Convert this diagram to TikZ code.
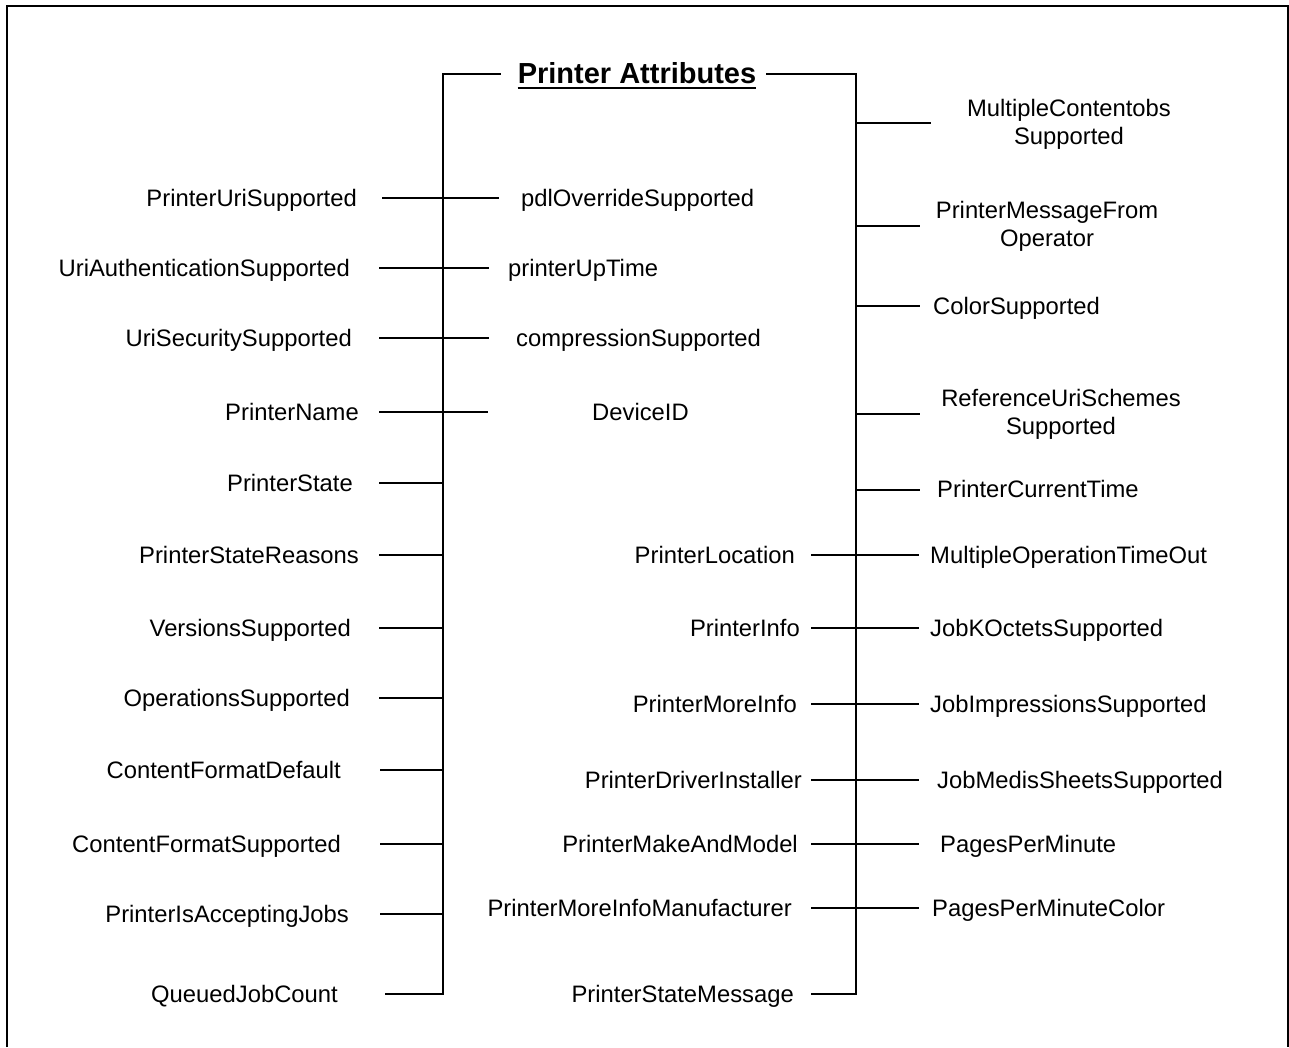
\documentclass[tikz,border=0pt]{standalone}
\usepackage{fontspec}
\setmainfont{Liberation Sans}
\begin{document}
\begin{tikzpicture}[x=1pt,y=-1pt,
  wire/.style={line width=2pt, line cap=rect},
  lbl/.style={inner sep=0pt, text height=17pt, text depth=0pt, font=\fontsize{23.8}{28}\selectfont},
  lbltwo/.style={inner sep=0pt, align=center, font=\fontsize{23.8}{28}\selectfont},
  ttl/.style={inner sep=0pt, font=\bfseries\fontsize{29}{34}\selectfont}]
\useasboundingbox (0,0) rectangle (1289,1047);
\fill[white] (0,0) rectangle (1289,1047);
% outer frame, open at the bottom
\draw[line width=2pt] (7,1047) -- (7,5.5) -- (1287.5,5.5) -- (1287.5,1047);

% heading
\node[ttl, anchor=base] (title) at (637,83) {Printer Attributes};
\draw[line width=2pt] ([yshift=-5pt]title.base west) -- ([yshift=-5pt]title.base east);

% the two buses hanging from the heading
\coordinate (tL) at (500,74);
\coordinate (tR) at (767,74);
\coordinate (busLtop) at (443,74);
\coordinate (busLbot) at (443,994);
\coordinate (busRtop) at (856,74);
\coordinate (busRbot) at (856,994);
\draw[wire] (tL) -- (busLtop) -- (busLbot);
\draw[wire] (tR) -- (busRtop) -- (busRbot);

% left column
\foreach \n/\t/\x/\y/\a/\b in {
  1/PrinterUriSupported/357/198/383/498,
  2/UriAuthenticationSupported/350/268/380/488,
  3/UriSecuritySupported/352/338/380/488,
  4/PrinterName/359/412/380/487,
  5/PrinterState/353/483/380/443,
  6/PrinterStateReasons/359/555/380/443,
  7/VersionsSupported/351/628/380/443,
  8/OperationsSupported/350/698/380/443,
  9/ContentFormatDefault/341/770/381/443,
  10/ContentFormatSupported/341/844/381/443,
  11/PrinterIsAcceptingJobs/349/914/381/443,
  12/QueuedJobCount/338/994/386/443}{
  \node[lbl, anchor=east] (L\n) at (\x,\y) {\t};
  \coordinate (La\n) at (\a,\y);
  \coordinate (Lb\n) at (\b,\y);
  \draw[wire] (La\n) -- (Lb\n);
}

% middle column, upper part
\foreach \n/\t/\x/\y in {
  1/pdlOverrideSupported/521/198,
  2/printerUpTime/508/268,
  3/compressionSupported/516/338,
  4/DeviceID/592/412}{
  \node[lbl, anchor=west] (M\n) at (\x,\y) {\t};
}

% middle column, lower part
\foreach \n/\t/\x/\y/\b in {
  5/PrinterLocation/795/555/918,
  6/PrinterInfo/800/628/918,
  7/PrinterMoreInfo/797/704/918,
  8/PrinterDriverInstaller/802/780/918,
  9/PrinterMakeAndModel/798/844/918,
  10/PrinterMoreInfoManufacturer/792/908/918,
  11/PrinterStateMessage/794/994/856}{
  \node[lbl, anchor=east] (M\n) at (\x,\y) {\t};
  \coordinate (Ma\n) at (812,\y);
  \coordinate (Mb\n) at (\b,\y);
  \draw[wire] (Ma\n) -- (Mb\n);
}

% right column
\node[lbltwo] (R1) at (1069,124) {MultipleContentobs\\Supported};
\node[lbltwo] (R2) at (1047,226) {PrinterMessageFrom\\Operator};
\node[lbl, anchor=west] (R3) at (933,306) {ColorSupported};
\node[lbltwo] (R4) at (1061,414) {ReferenceUriSchemes\\Supported};
\node[lbl, anchor=west] (R5) at (937,489) {PrinterCurrentTime};
\node[lbl, anchor=west] (R6) at (930,555) {MultipleOperationTimeOut};
\node[lbl, anchor=west] (R7) at (930,628) {JobKOctetsSupported};
\node[lbl, anchor=west] (R8) at (930,704) {JobImpressionsSupported};
\node[lbl, anchor=west] (R9) at (937,780) {JobMedisSheetsSupported};
\node[lbl, anchor=west] (R10) at (940,844) {PagesPerMinute};
\node[lbl, anchor=west] (R11) at (932,908) {PagesPerMinuteColor};

\foreach \n/\y/\b in {1/123/930, 2/226/919, 3/306/919, 4/414/919, 5/490/919}{
  \coordinate (Ra\n) at (856,\y);
  \coordinate (Rb\n) at (\b,\y);
  \draw[wire] (Ra\n) -- (Rb\n);
}
\end{tikzpicture}
\end{document}
